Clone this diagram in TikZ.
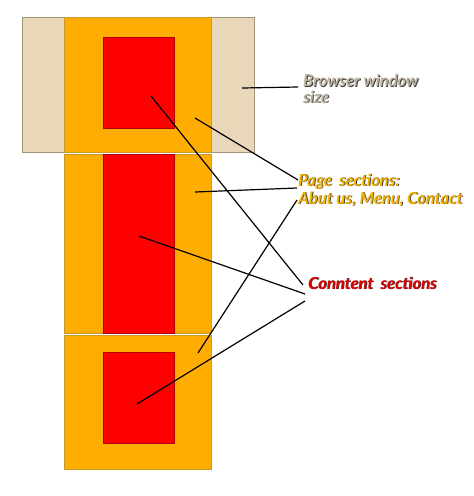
\documentclass[tikz,border=0pt]{standalone}
\usepackage{fontspec}
\setmainfont{Lato}
\usepackage{xcolor}
\usepackage{tikz}

\definecolor{winbeige}{HTML}{E8D7B9}
\definecolor{winedge}{HTML}{A39378}
\definecolor{pageorange}{HTML}{FFAD00}
\definecolor{pageedge}{HTML}{C89A30}
\definecolor{contentred}{HTML}{FF0000}
\definecolor{contentedge}{HTML}{B00000}
\definecolor{wintext}{HTML}{BDB29F}
\definecolor{pagetext}{HTML}{F5B400}
\definecolor{contenttext}{HTML}{E00000}

% text with a small dark drop shadow
\newcommand\shtxt[2]{\rlap{\kern0.9pt\raisebox{-0.9pt}{\textcolor{black!75}{#2}}}\textcolor{#1}{#2}}

\tikzset{
  winbox/.style={fill=winbeige, draw=winedge, line width=0.8pt},
  pagebox/.style={fill=pageorange, draw=pageedge, line width=0.8pt},
  contentbox/.style={fill=contentred, draw=contentedge, line width=0.5pt},
  pointer/.style={draw=black, line width=1.2pt},
  labeltext/.style={inner sep=0pt, align=left, anchor=base west,
    font=\fontsize{16.5}{16.5}\selectfont\bfseries\itshape}
}

\begin{document}
\begin{tikzpicture}[x=1pt,y=-1pt]
\useasboundingbox (0,0) rectangle (474,496);

% Browser window
\filldraw[winbox] (22,17) rectangle (254,152);

% Page sections, each with its content section
\foreach \ya/\yb/\ra/\rb in {17/152/37/128, 154/333/154/333, 335/469/352/443} {
    \filldraw[pagebox] (64,\ya) rectangle (211,\yb);
    \filldraw[contentbox] (103,\ra) rectangle (174,\rb);
}

% Pointer start points
\coordinate (win) at (242,88);
\coordinate (page1) at (195,118);
\coordinate (page2) at (195,192);
\coordinate (page3) at (198,353);
\coordinate (content1) at (151,96);
\coordinate (content2) at (139,236);
\coordinate (content3) at (137,404);

% Pointer end points next to the labels
\coordinate (winend) at (298,87);
\coordinate (pageend1) at (298,180);
\coordinate (pageend2) at (297,188);
\coordinate (pageend3) at (297,200);
\coordinate (contentend1) at (303,285);
\coordinate (contentend2) at (305,294);
\coordinate (contentend3) at (305,301);

% Labels (base is the baseline of the last line)
\node[labeltext] (winlabel) at (303,103) {\shtxt{wintext}{Browser window}\\\shtxt{wintext}{size}};
\node[labeltext] (pagelabel) at (298,204) {\shtxt{pagetext}{Page\hspace{7pt}sections:}\\[1.5pt]\shtxt{pagetext}{Abut us, Menu, Contact}};
\node[labeltext] (contentlabel) at (308,289) {\shtxt{contenttext}{Conntent\hspace{7pt}sections}};

% Pointers
\foreach \a/\b in {win/winend, page1/pageend1, page2/pageend2, page3/pageend3,
    content1/contentend1, content2/contentend2, content3/contentend3}
    \draw[pointer] (\a) -- (\b);
\end{tikzpicture}
\end{document}
